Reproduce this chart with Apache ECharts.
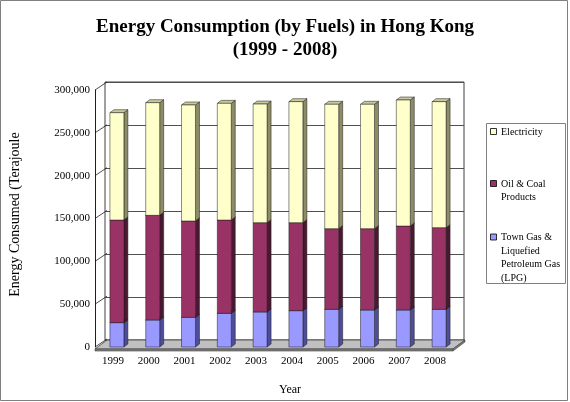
<!DOCTYPE html>
<html>
<head>
<meta charset="utf-8">
<script src="https://cdn.jsdelivr.net/npm/echarts@6/dist/echarts.min.js"></script>
<style>html,body{margin:0;padding:0;background:#fff}#c{width:570px;height:402px}</style>
</head>
<body>
<div id="c"></div>
<script>
const years = ['1999','2000','2001','2002','2003','2004','2005','2006','2007','2008'];
const lpg = [28400, 31500, 34600, 39300, 40900, 42400, 44000, 43200, 43200, 44000];
const oilCoal = [119800, 122200, 112500, 108900, 104200, 102700, 94100, 94900, 98000, 95300];
const electricity = [125300, 131500, 135400, 136200, 138500, 141300, 145200, 145200, 147100, 147100];
const yTicks = [0, 50000, 100000, 150000, 200000, 250000, 300000];
const seriesNames = ['Town Gas & Liquefied Petroleum Gas (LPG)', 'Oil & Coal Products', 'Electricity'];
const legendLabels = ['Electricity', 'Oil & Coal\nProducts', 'Town Gas &\nLiquefied\nPetroleum Gas\n(LPG)'];

const FONT = 'Liberation Serif';
const styles = [
  {front:'#9999FF', side:'#4D4D99', top:'#7A7ACC'},
  {front:'#993366', side:'#4A1830', top:'#6E2449'},
  {front:'#FFFFCC', side:'#8C8C66', top:'#C8C89A'}
];
const DX = 4, DY = -3;

const stackVals = [lpg, oilCoal, electricity];
const cum = years.map(() => 0);
const barSeries = stackVals.map((vals, s) => {
  const data = vals.map((v, i) => { const b = cum[i]; cum[i] += v; return [i, b, cum[i], v]; });
  const st = styles[s];
  return {
    type: 'custom', name: seriesNames[s], xAxisIndex: 0, yAxisIndex: 0, z: 10 + s,
    itemStyle: {color: st.front},
    encode: {x: 0, y: [1, 2]},
    data: data,
    renderItem: function (params, api) {
      const i = api.value(0);
      const pt = api.coord([i, api.value(2)]);
      const pb = api.coord([i, api.value(1)]);
      const w = api.size([1, 0])[0] * 0.39;
      const x = pt[0] - w / 2;
      const yt = pt[1], yb = pb[1];
      const stroke = {stroke: '#1a1a1a', lineWidth: 0.5};
      return {type: 'group', children: [
        {type: 'polygon', shape: {points: [[x + w, yt], [x + w + DX, yt + DY], [x + w + DX, yb + DY], [x + w, yb]]},
          style: Object.assign({fill: st.side}, stroke)},
        {type: 'polygon', shape: {points: [[x, yt], [x + DX, yt + DY], [x + w + DX, yt + DY], [x + w, yt]]},
          style: Object.assign({fill: st.top}, stroke)},
        {type: 'rect', shape: {x: x, y: yt, width: w, height: yb - yt},
          style: Object.assign({fill: st.front}, stroke)}
      ]};
    }
  };
});

const decor = {
  type: 'custom', xAxisIndex: 0, yAxisIndex: 0, z: 2, silent: true,
  data: [[0, 0]],
  renderItem: function (params, api) {
    const cs = params.coordSys;
    const x0 = cs.x - 4, x1 = cs.x + cs.width - 4;
    const y0 = api.coord([0, 0])[1];
    const children = [
      {type: 'polygon', shape: {points: [[x0, y0 + 2], [x1, y0 + 2], [x1 + 12, y0 - 7], [x0 + 12, y0 - 7]]},
        style: {fill: '#C0C0C0', stroke: '#404040', lineWidth: 0.8}},
      {type: 'polygon', shape: {points: [[x0, y0 + 2], [x1, y0 + 2], [x1, y0 + 4], [x0, y0 + 4]]},
        style: {fill: '#808080', stroke: '#404040', lineWidth: 0.6}},
      {type: 'polygon', shape: {points: [[x1, y0 + 2], [x1 + 12, y0 - 7], [x1 + 12, y0 - 5], [x1, y0 + 4]]},
        style: {fill: '#808080', stroke: '#404040', lineWidth: 0.6}}
    ];
    yTicks.forEach(function (v) {
      const y = api.coord([0, v])[1];
      children.push({type: 'line', shape: {x1: x0, y1: y, x2: x0 + 12, y2: y - 8},
        style: {stroke: '#202020', lineWidth: 0.8}});
    });
    return {type: 'group', children: children};
  }
};

const legendGraphics = [];
const legendY = [132, 184, 237.5];
const legendColors = [styles[2].front, styles[1].front, styles[0].front];
legendGraphics.push({type: 'rect', shape: {x: 486.5, y: 123.5, width: 79, height: 160},
  style: {fill: '#fff', stroke: '#808080', lineWidth: 1}});
legendLabels.forEach(function (t, k) {
  legendGraphics.push({type: 'rect', shape: {x: 490.5, y: legendY[k] - 3.5, width: 6, height: 6},
    style: {fill: legendColors[k], stroke: '#000', lineWidth: 0.8}});
  legendGraphics.push({type: 'text', x: 501, y: legendY[k] - 6.5,
    style: {text: t, fontFamily: FONT, fontSize: 10, lineHeight: 13.5, fill: '#000', verticalAlign: 'top'}});
});
legendGraphics.push({type: 'rect', shape: {x: 0.5, y: 0.5, width: 567, height: 400},
  style: {fill: 'none', stroke: '#808080', lineWidth: 1}});

const chart = echarts.init(document.getElementById('c'), null, {renderer: 'canvas'});
chart.setOption({
  animation: false,
  backgroundColor: '#fff',
  title: {
    text: 'Energy Consumption (by Fuels) in Hong Kong\n(1999 - 2008)',
    left: 'center', top: 11,
    textStyle: {fontFamily: FONT, fontSize: 19, fontWeight: 'bold', lineHeight: 23, color: '#000'}
  },
  grid: [
    {left: 97, right: 113, top: 90, bottom: 55, show: false},
    {left: 105, right: 106, top: 82, bottom: 62, show: true, borderColor: '#404040', borderWidth: 1, backgroundColor: '#fff', z: 0}
  ],
  xAxis: [
    {type: 'category', gridIndex: 0, data: years,
      axisLine: {show: false}, axisTick: {show: false},
      axisLabel: {fontFamily: FONT, fontSize: 11, color: '#000', margin: 9, padding: [0, 8, 0, 0]},
      name: 'Year', nameLocation: 'middle', nameGap: 37,
      nameTextStyle: {fontFamily: FONT, fontSize: 12, color: '#000', padding: [0, 0, 0, 24]}},
    {type: 'value', gridIndex: 1, min: 0, max: 1, show: false}
  ],
  yAxis: [
    {type: 'value', gridIndex: 0, min: 0, max: 300000, interval: 50000, offset: 4,
      axisLine: {show: true, lineStyle: {color: '#202020', width: 1}},
      axisTick: {show: false}, splitLine: {show: false},
      axisLabel: {fontFamily: FONT, fontSize: 11, color: '#000', margin: 5,
        formatter: function (v) { return v.toLocaleString('en-US'); }},
      name: 'Energy Consumed (Terajoule', nameLocation: 'middle', nameRotate: 90, nameGap: 73,
      nameTextStyle: {fontFamily: FONT, fontSize: 14, color: '#000', padding: [0, 0, 0, 8]}},
    {type: 'value', gridIndex: 1, min: 0, max: 300000, interval: 50000,
      axisLine: {show: false}, axisTick: {show: false}, axisLabel: {show: false},
      splitLine: {show: true, lineStyle: {color: '#505050', width: 1}}}
  ],
  graphic: legendGraphics,
  series: [decor].concat(barSeries)
});
</script>
</body>
</html>
